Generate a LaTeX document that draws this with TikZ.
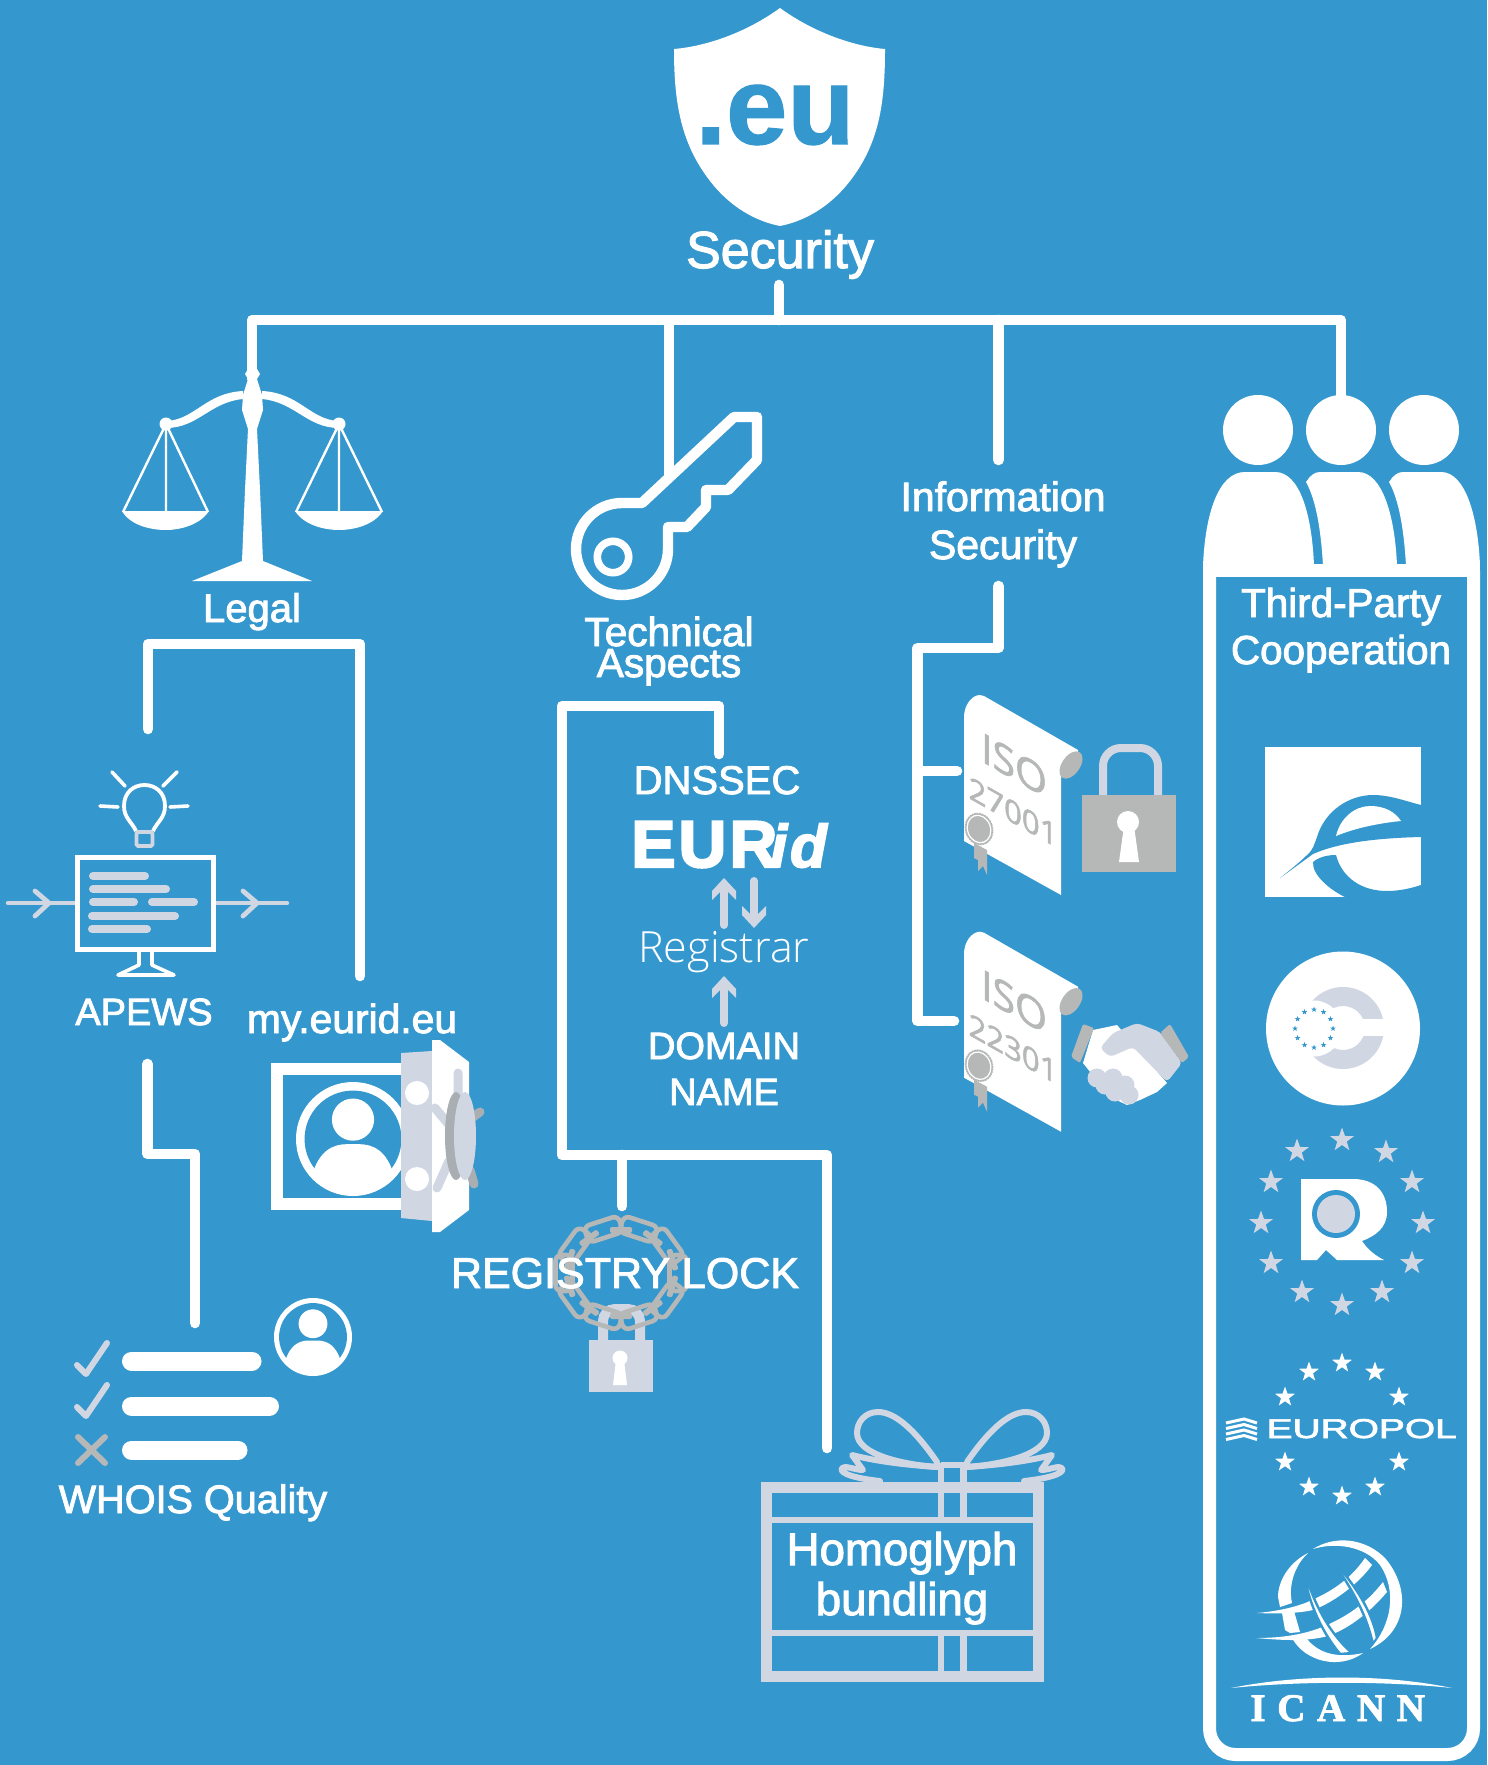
\documentclass[tikz,border=0pt]{standalone}
\usepackage{fontspec}
\usetikzlibrary{shapes.geometric}
\setmainfont{Liberation Sans}
\newfontfamily\lab[FakeBold=2.2]{Liberation Sans}
\newfontfamily\eub[BoldFeatures={FakeBold=1}]{Liberation Sans}
\newfontfamily\eurb[LetterSpace=5,BoldFeatures={FakeBold=3.5},BoldItalicFeatures={FakeBold=3}]{Liberation Sans}
\newfontfamily\icn[LetterSpace=30,BoldFeatures={FakeBold=2}]{Liberation Serif}
\newfontfamily\isof[FakeBold=1.6]{Open Sans}
\newfontfamily\regf{Open Sans Light}
\definecolor{bgblue}{HTML}{3498CF}
\definecolor{pale}{HTML}{D1D7E2}
\definecolor{midgray}{HTML}{B6B8B8}
\definecolor{darkgray}{HTML}{A9AEB3}
\newcommand\fs[1]{\lab\fontsize{#1}{#1}\selectfont}
\tikzset{
 conn/.style={draw=white,line width=5.3pt,line cap=round,line join=round},
 lbl/.style={text=white,inner sep=0pt,anchor=base},
 palebar/.style={draw=pale,line width=4pt,line cap=round},
 thinw/.style={draw=white,line width=1.2pt},
 palestar/.style={star,star points=5,star point ratio=2.5,fill=pale,inner sep=0pt,minimum size=25pt*.5},
 whitestar/.style={star,star points=5,star point ratio=2.5,fill=white,inner sep=0pt,minimum size=21pt*.5},
 tinystar/.style={star,star points=5,star point ratio=2.5,fill=bgblue,inner sep=0pt,minimum size=3pt},
 linkbox/.style={draw=midgray,line width=2.3pt,rounded corners=3pt,minimum width=18pt,minimum height=8.5pt,inner sep=0pt},
 linkbar/.style={fill=midgray,rounded corners=1pt,minimum width=11pt,minimum height=3pt,inner sep=0pt},
}
% avatar: x, y, radius, ring ratio
\newcommand\avatarIcon[4]{%
 \begin{scope}[shift={(#1,#2)},x=#3*0.5pt,y=-#3*0.5pt]
  \fill[white] (0,0) circle[radius=1];
  \fill[bgblue] (0,0) circle[radius=1-#4];
  \begin{scope}
   \clip (0,0) circle[radius=.95];
   \fill[white] (-.72,.65) .. controls (-.6,.2) and (-.35,.09) .. (-.1,.09) -- (.1,.09) .. controls (.35,.09) and (.6,.2) .. (.72,.65) -- (.85,1.1) -- (-.85,1.1) -- cycle;
  \end{scope}
  \fill[white] (0,-.34) circle[radius=.37];
 \end{scope}}
% scroll: vertical offset, number
\newcommand\scrollIcon[2]{%
 \begin{scope}[shift={(0,#1)}]
  \fill[white] (964,717) .. controls (964,705) and (972,695) .. (980,695) -- (984,696) -- (1078,750) -- (1078,770) -- (1061,775) -- (1061,895) -- (964,841) -- cycle;
  \fill[midgray,rotate around={55:(1071,765)}] (1071,765) ellipse (15.5 and 9);
  \begin{scope}[shift={(1014,765)},yslant=-.567]
   \node[transform shape,text=midgray,inner sep=0pt,font=\isof\fontsize{20.5}{20.5}\selectfont] at (0,0) {ISO};
  \end{scope}
  \begin{scope}[shift={(1013,812)},yslant=-.567]
   \node[transform shape,text=midgray,inner sep=0pt,font=\isof\fontsize{15.5}{15.5}\selectfont] at (0,0) {#2};
  \end{scope}
  \fill[midgray] (974,843) -- (987,850) -- (987,875) -- (983,866) -- (978,871) -- (978,860) -- (974,858) -- cycle;
  \draw[midgray,fill=midgray,line width=.6pt,dash pattern=on .8pt off .5pt,rotate around={20:(979,829)}] (979,829) ellipse (13.5 and 16);
  \draw[white,line width=.6pt,rotate around={20:(979,829)}] (979,829) ellipse (11.5 and 14);
 \end{scope}}
\begin{document}
\begin{tikzpicture}[x=0.5pt,y=-0.5pt]
\useasboundingbox (0,0) rectangle (1487,1765);
\fill[bgblue] (0,0) rectangle (1487,1765);

% ---- named connector points
\coordinate (stemtop) at (779,285);
\coordinate (stemjoin) at (779,320);
\coordinate (legalj) at (252,320);
\coordinate (legalend) at (252,380);
\coordinate (techj) at (669,320);
\coordinate (techend) at (669,476);
\coordinate (infoj) at (998.5,320);
\coordinate (infoend) at (998.5,460);
\coordinate (thirdj) at (1341,320);
\coordinate (thirdend) at (1341,410);
\coordinate (lb1) at (148,729); \coordinate (lb2) at (148,644); \coordinate (lb3) at (360,644); \coordinate (lb4) at (360,976);
\coordinate (ap1) at (147.5,1064); \coordinate (ap2) at (147.5,1154); \coordinate (ap3) at (195,1154); \coordinate (ap4) at (195,1323);
\coordinate (tb1) at (719,754); \coordinate (tb2) at (719,706); \coordinate (tb3) at (562,706); \coordinate (tb4) at (562,1155); \coordinate (tb5) at (827,1155); \coordinate (tb6) at (827,1448);
\coordinate (tbs) at (622,1155); \coordinate (tbe) at (622,1206);
\coordinate (ib1) at (998.5,586); \coordinate (ib2) at (998.5,648); \coordinate (ib3) at (917.5,648); \coordinate (ib4) at (917.5,1021); \coordinate (ib5) at (954,1021);
\coordinate (ibs) at (917.5,771); \coordinate (ibe) at (957,771);

\draw[conn] (stemtop) -- (stemjoin);
\draw[conn,line cap=butt] (legalend) -- (legalj) -- (thirdj) -- (thirdend);
\draw[conn,line cap=butt] (techj) -- (techend);
\draw[conn] (infoj) -- (infoend);
\draw[conn] (lb1) -- (lb2) -- (lb3) -- (lb4);
\draw[conn] (ap1) -- (ap2) -- (ap3) -- (ap4);
\draw[conn] (tb1) -- (tb2) -- (tb3) -- (tb4) -- (tb5) -- (tb6);
\draw[conn] (tbs) -- (tbe);
\draw[conn] (ib1) -- (ib2) -- (ib3) -- (ib4) -- (ib5);
\draw[conn] (ibs) -- (ibe);

% ---- shield
\fill[white] (780,8) .. controls (750,30) and (710,46) .. (674,49) .. controls (674,100) and (680,140) .. (707,177) .. controls (725,202) and (750,220) .. (780,226) .. controls (810,220) and (835,202) .. (853,177) .. controls (880,140) and (885,100) .. (885,49) .. controls (850,46) and (810,30) .. (780,8) -- cycle;
\node[inner sep=0pt,anchor=base,text=bgblue,font=\eub\bfseries\fontsize{55}{55}\selectfont] (eu) at (775,144) {.eu};
\node[lbl,font=\fs{26}] (security) at (780,268) {Security};

% ---- scales
\fill[white] (252,366) -- (248,369) -- (245,374) -- (248,379) -- (243,395) -- (242,410) -- (248,429) -- (245,490) -- (242,561) -- (192,581) -- (312,581) -- (263,561) -- (260,490) -- (257,429) -- (263,410) -- (262,395) -- (257,379) -- (260,374) -- (257,369) -- cycle;
\fill[white] (243,391) .. controls (205,393) and (195,420) .. (166,421) -- (166,428) .. controls (198,428) and (210,402) .. (243,399) -- cycle;
\fill[white] (262,391) .. controls (300,393) and (310,420) .. (339,421) -- (339,428) .. controls (307,428) and (295,402) .. (262,399) -- cycle;
\fill[white] (166,424) circle[radius=6.5];
\fill[white] (339,424) circle[radius=6.5];
\draw[thinw] (123,512) -- (166,424) -- (208,512) (166,424) -- (166,512);
\draw[thinw] (296,512) -- (339,424) -- (382,512) (339,424) -- (339,512);
\fill[white] (122,511) -- (209,511) .. controls (200,525) and (180,530) .. (166,530) .. controls (150,530) and (130,525) .. (122,511) -- cycle;
\fill[white] (295,511) -- (383,511) .. controls (374,525) and (354,530) .. (339,530) .. controls (324,530) and (304,525) .. (295,511) -- cycle;
\node[lbl,font=\fs{20}] (legal) at (252,622) {Legal};

% ---- key
\draw[white,line width=5.2pt,line join=round] (668,549) .. controls (668,574.4) and (647.4,595) .. (622,595) .. controls (596.6,595) and (576,574.4) .. (576,549) .. controls (576,523.6) and (596.6,503) .. (622,503) -- (642,503) -- (734,417) -- (757,417) -- (757,460) -- (728,490) -- (706,490) -- (706,507) -- (687,527) -- (668,527) -- cycle;
\draw[white,line width=3.8pt] (613,557) circle[radius=15.7];
\node[lbl,font=\fs{20.3}] (tech1) at (669,646) {Technical};
\node[lbl,font=\fs{20.3}] (tech2) at (669,677) {Aspects};

% ---- APEWS
\draw[white,line width=1.8pt,line cap=round] (112,772) -- (125,786) (177,772) -- (163,786) (100,806) -- (118,807) (188,806) -- (170,807);
\draw[white,line width=1.9pt] (136,831) .. controls (132,822) and (124,818) .. (124,806) .. controls (124,792) and (134,785) .. (144.5,785) .. controls (155,785) and (165,792) .. (165,806) .. controls (165,818) and (157,822) .. (153,831);
\draw[pale,line width=1.9pt,rounded corners=.8pt] (136.5,832) rectangle (152.5,846);
\draw[pale,line width=2.2pt,line cap=round] (8,903) -- (75,903) (216,903) -- (287,903);
\draw[pale,line width=2.4pt,line cap=round,line join=round] (35,891) -- (49,903) -- (35,916);
\draw[pale,line width=2.4pt,line cap=round,line join=round] (243,891) -- (257,903) -- (243,916);
\draw[white,line width=2.6pt] (77.5,857.5) rectangle (213.5,949.5);
\draw[pale,line width=4pt,line cap=round]
 (93,876) -- (145,876) (93,889) -- (166,889) (93,902) -- (134,902) (152,902) -- (194,902) (92,916) -- (175,916) (92,929) -- (147,929);
\draw[white,line width=1.8pt,line join=round] (139,952) -- (139,965) -- (118,975) -- (174,975) -- (152,965) -- (152,952);
\node[lbl,font=\fs{19}] (apews) at (144,1025) {APEWS};

% ---- my.eurid.eu safe
\node[lbl,font=\fs{20.4}] (myeurid) at (352,1033) {my.eurid.eu};
\draw[white,line width=6pt] (410,1069) -- (276.5,1069) -- (276.5,1203.5) -- (410,1203.5);
\avatarIcon{353}{1139}{57}{.15}
\fill[pale] (401,1053) -- (432,1051) -- (432,1221) -- (401,1218) -- cycle;
\fill[white] (432,1040) -- (440,1040) -- (469,1062) -- (469,1210) -- (440,1232) -- (432,1232) -- cycle;
\fill[white] (417,1093) circle[radius=12];
\fill[white] (417,1179) circle[radius=12];
\draw[pale,line width=4.5pt,line cap=round] (458,1073) -- (458,1097) (435,1108) -- (450,1126) (449,1161) -- (437,1188);
\draw[darkgray,line width=4.5pt,line cap=round] (473,1117) -- (480,1112) (470,1170) -- (474,1184);
\fill[darkgray] (456,1136) ellipse (11 and 44);
\fill[pale] (465,1136) ellipse (11 and 44);

% ---- tech stack
\node[lbl,font=\fs{20}] (dnssec) at (717,794) {DNSSEC};
\node[lbl,anchor=base west,font=\eurb\bfseries\fontsize{33}{33}\selectfont] (eurid) at (631,867) {EUR};
\node[lbl,anchor=base west,font=\eurb\bfseries\itshape\fontsize{30}{30}\selectfont] (euridb) at (770,867) {id};
\draw[pale,line width=4pt,line cap=round] (724,888) -- (724,925) (754,881) -- (754,918) (724,986) -- (724,1023);
\fill[pale] (724,878) -- (736,891) -- (736,900) -- (724,888) -- (712,900) -- (712,891) -- cycle;
\fill[pale] (754,928) -- (766,915) -- (766,906) -- (754,918) -- (742,906) -- (742,915) -- cycle;
\fill[pale] (724,976) -- (736,989) -- (736,998) -- (724,986) -- (712,998) -- (712,989) -- cycle;
\node[lbl,font=\regf\fontsize{21.5}{21.5}\selectfont] (registrar) at (724,962) {Registrar};
\node[lbl,font=\fs{19}] (domain) at (724,1059) {DOMAIN};
\node[lbl,font=\fs{19}] (name) at (724,1105) {NAME};

% ---- padlock + chain
\draw[pale,line width=5pt,rounded corners=6pt] (603,1345) -- (603,1309) -- (640,1309) -- (640,1345);
\fill[pale] (589,1340) rectangle (653,1392);
\fill[white] (620,1358) circle[radius=7.5];
\fill[white] (616,1360) -- (624,1360) -- (627,1385) -- (613,1385) -- cycle;
\foreach \a in {0,36,...,324}{
 \node[linkbox,rotate=\a+72+90] (link\a) at ({621+57*cos(\a+72)},{1273-46*sin(\a+72)}) {};
}
\foreach \a in {0,36,...,324}{
 \node[linkbar,rotate=\a+90+90] (bar\a) at ({621+54*cos(\a+90)},{1273-43*sin(\a+90)}) {};
}
\node[lbl,font=\fs{21.5}] (reglock) at (625,1288) {REGISTRY LOCK};

% ---- WHOIS
\avatarIcon{313}{1337}{39}{.13}
\draw[white,line width=9.5pt,line cap=round] (131.5,1361) -- (252,1361) (131.5,1406) -- (269.5,1406) (131.5,1450) -- (238,1450);
\draw[pale,line width=3pt,line cap=round,line join=round] (77,1365) -- (86,1374) -- (107,1343);
\draw[pale,line width=3pt,line cap=round,line join=round] (77,1407) -- (86,1416) -- (107,1385);
\draw[midgray,line width=3pt,line cap=round] (78,1437) -- (105,1463) (105,1437) -- (78,1463);
\node[lbl,font=\fs{19.8}] (whois) at (193,1513) {WHOIS Quality};

% ---- Info security
\node[lbl,font=\fs{20.5}] (info1) at (1003,511) {Information};
\node[lbl,font=\fs{20.5}] (info2) at (1003,559) {Security};
\scrollIcon{0}{27001}
\scrollIcon{236.7}{22301}
\draw[pale,line width=4pt,rounded corners=9pt] (1103,800) -- (1103,748) -- (1158,748) -- (1158,800);
\fill[midgray] (1082,795) rectangle (1176,872);
\fill[white] (1128,822) circle[radius=11];
\fill[white] (1124,826) -- (1134,826) -- (1139,862) -- (1119,862) -- cycle;
% handshake
\fill[white] (1093,1030) -- (1117,1025) -- (1167,1083) -- (1157,1092) -- (1140,1100) -- (1127,1105) -- (1110,1097) -- (1083,1063) -- cycle;
\fill[pale,rounded corners=2pt] (1100,1048) -- (1113,1033) -- (1137,1023) -- (1160,1032) -- (1182,1063) -- (1167,1082) -- (1133,1047) -- (1110,1057) -- cycle;
\foreach \p in {(1097,1078),(1113,1078),(1125,1085),(1129,1095),(1115,1092),(1105,1085)}{\fill[pale] \p circle[radius=9.5];}
\fill[midgray,rounded corners=1pt] (1083,1024) -- (1094,1028) -- (1080,1063) -- (1071,1057) -- cycle;
\fill[midgray,rounded corners=1pt] (1170,1024) -- (1189,1057) -- (1182,1063) -- (1160,1033) -- cycle;

% ---- Third party
\fill[white] (1258,430) circle[radius=35];
\fill[white] (1341,430) circle[radius=35];
\fill[white] (1424,430) circle[radius=35];
\fill[white] (1306,482) .. controls (1310,476) and (1314,472) .. (1320,472) -- (1358,472) .. controls (1382,472) and (1395,515) .. (1397,566) -- (1323,566) .. controls (1321,530) and (1316,500) .. (1306,482) -- cycle;
\fill[white] (1389,482) .. controls (1393,476) and (1397,472) .. (1403,472) -- (1441,472) .. controls (1465,472) and (1478,515) .. (1480,566) -- (1406,566) .. controls (1404,530) and (1399,500) .. (1389,482) -- cycle;
\fill[white] (1203,566) .. controls (1205,515) and (1218,472) .. (1245,472) -- (1275,472) .. controls (1300,472) and (1312,515) .. (1314,566) -- cycle;
\draw[white,line width=6.5pt,rounded corners=13pt] (1209.5,570.5) -- (1209.5,1754.5) -- (1473.5,1754.5) -- (1473.5,570.5);
\draw[white,line width=6.5pt] (1203,570.5) -- (1480,570.5);
\node[lbl,font=\fs{20.2}] (third1) at (1341,617) {Third-Party};
\node[lbl,font=\fs{20.2}] (third2) at (1341,664) {Cooperation};

% logo 1
\fill[white] (1265,747) rectangle (1421,897);
\fill[bgblue] (1280,878) .. controls (1290,870) and (1300,862) .. (1307,855) .. controls (1313,850) and (1314,845) .. (1317,837) .. controls (1325,810) and (1350,795) .. (1373,795) .. controls (1390,795) and (1405,801) .. (1421,805) -- (1421,837) .. controls (1380,838) and (1340,842) .. (1313,854) -- cycle;
\fill[white] (1336,836) .. controls (1340,818) and (1355,806) .. (1370,806) .. controls (1385,806) and (1395,812) .. (1401,821) .. controls (1380,823) and (1355,828) .. (1336,836) -- cycle;
\fill[bgblue] (1313,862) .. controls (1320,856) and (1330,855) .. (1336,855) .. controls (1342,878) and (1362,891) .. (1387,891) .. controls (1400,891) and (1412,888) .. (1421,885) -- (1421,897) -- (1345,897) .. controls (1330,890) and (1312,875) .. (1313,862) -- cycle;

% logo 2
\fill[white] (1343,1028.5) circle[radius=77];
\fill[pale,even odd rule] (1343,1028) circle[radius=41] (1343,1028) circle[radius=22];
\fill[white] (1358,1018.5) rectangle (1395,1036);
\fill[white] (1314,1028.5) circle[radius=28];
\foreach \a in {0,30,...,330}{\node[tinystar] (cstar\a) at ({1314+19*cos(\a)},{1028.5-19*sin(\a)}) {};}

% logo 3
\foreach \p [count=\i] in {(1342,1140),(1297,1151),(1386,1152),(1271,1182),(1412,1182),(1261,1223),(1423,1223),(1271,1263),(1412,1263),(1302,1292),(1382,1292),(1342,1305)}{\node[palestar] (rstar\i) at \p {};}
\fill[white] (1301,1179) -- (1353,1179) .. controls (1375,1179) and (1387,1192) .. (1387,1212) .. controls (1387,1228) and (1375,1236) .. (1362,1241) .. controls (1368,1250) and (1376,1256) .. (1384,1260) -- (1337,1260) -- (1326,1250) -- (1317,1260) -- (1301,1260) -- cycle;
\fill[bgblue] (1336,1214) circle[radius=24];
\fill[pale] (1336,1214) circle[radius=19];

% logo 4
\foreach \p [count=\i] in {(1342,1363),(1309,1372),(1375,1372),(1285,1397),(1399,1397),(1285,1462),(1399,1462),(1309,1487),(1375,1487),(1342,1496)}{\node[whitestar] (estar\i) at \p {};}
\foreach \d in {0,5.5,11,16.5}{\draw[white,line width=1.5pt] (1226,1423+\d) -- (1244,1419+\d) -- (1257,1423+\d);}
\node[lbl,anchor=base west,font=\fs{13.6},xscale=1.43] (europol) at (1266,1438) {EUROPOL};

% logo 5
\fill[white] (1257,1613) .. controls (1280,1611) and (1300,1606) .. (1312,1600) .. controls (1330,1592) and (1350,1580) .. (1365,1558) -- (1372,1565) .. controls (1360,1582) and (1335,1602) .. (1313,1610) .. controls (1300,1613) and (1280,1614) .. (1257,1613) -- cycle;
\fill[white] (1256,1638) .. controls (1280,1638) and (1305,1635) .. (1327,1625) .. controls (1345,1617) and (1365,1605) .. (1383,1582) -- (1387,1592) .. controls (1370,1612) and (1350,1628) .. (1328,1636) .. controls (1305,1642) and (1280,1640) .. (1256,1638) -- cycle;
\fill[white,draw=bgblue,line width=1.2pt] (1303,1563) .. controls (1308,1590) and (1325,1630) .. (1352,1653) -- (1340,1654) .. controls (1322,1632) and (1306,1600) .. (1303,1563) -- cycle;
\fill[white,draw=bgblue,line width=1.2pt] (1327,1554) .. controls (1352,1580) and (1372,1610) .. (1377,1638) -- (1373,1644) .. controls (1365,1610) and (1350,1585) .. (1327,1554) -- cycle;
\fill[white] (1308,1553) .. controls (1290,1562) and (1278,1580) .. (1278,1597) -- (1280,1607) -- (1292,1603) .. controls (1288,1585) and (1295,1565) .. (1308,1553) -- cycle;
\fill[white] (1282,1613) -- (1285,1630) -- (1290,1633) -- (1300,1632) -- (1294,1611) -- cycle;
\fill[white] (1292,1638) .. controls (1305,1662) and (1340,1670) .. (1363,1653) .. controls (1340,1658) and (1320,1655) .. (1307,1639) -- cycle;
\fill[white] (1313,1549) .. controls (1335,1535) and (1365,1538) .. (1385,1558) .. controls (1412,1590) and (1407,1632) .. (1370,1649) .. controls (1392,1625) and (1397,1590) .. (1380,1565) .. controls (1365,1546) and (1335,1542) .. (1313,1549) -- cycle;
\fill[white] (1231,1688) .. controls (1300,1674) and (1385,1674) .. (1452,1688) .. controls (1385,1681) and (1300,1681) .. (1231,1688) -- cycle;
\node[lbl,anchor=base west,font=\icn\bfseries\fontsize{19.5}{19.5}\selectfont] (icann) at (1250,1721) {ICANN};

% ---- gift
\draw[pale,line width=5.5pt] (766.5,1487.5) rectangle (1038.5,1676.5);
\draw[pale,line width=3.3pt] (766,1520) -- (1040,1520) (766,1633) -- (1040,1633) (941,1463) -- (941,1520) (963.5,1463) -- (963.5,1520) (941,1633) -- (941,1676) (963.5,1633) -- (963.5,1676) (941,1465) -- (963.5,1465);
\draw[pale,line width=3pt,line join=round,line cap=round] (937,1462) .. controls (915,1430) and (895,1412) .. (878,1412) .. controls (865,1412) and (857,1422) .. (857,1433) .. controls (857,1455) and (905,1465) .. (938,1467);
\draw[pale,line width=3pt,line join=round,line cap=round] (938,1467) .. controls (905,1465) and (875,1461) .. (852,1455) -- (863,1470) .. controls (855,1470) and (845,1465) .. (842,1468) .. controls (838,1474) and (860,1479) .. (880,1481);
\draw[pale,line width=3pt,line join=round,line cap=round] (967,1462) .. controls (989,1430) and (1009,1412) .. (1026,1412) .. controls (1039,1412) and (1047,1422) .. (1047,1433) .. controls (1047,1455) and (999,1465) .. (966,1467);
\draw[pale,line width=3pt,line join=round,line cap=round] (966,1467) .. controls (999,1465) and (1029,1461) .. (1052,1455) -- (1041,1470) .. controls (1049,1470) and (1059,1465) .. (1062,1468) .. controls (1066,1474) and (1044,1479) .. (1024,1481);
\node[lbl,font=\fs{22.8}] (homo) at (902,1565) {Homoglyph};
\node[lbl,font=\fs{22.8}] (bund) at (902,1615) {bundling};
\end{tikzpicture}
\end{document}
